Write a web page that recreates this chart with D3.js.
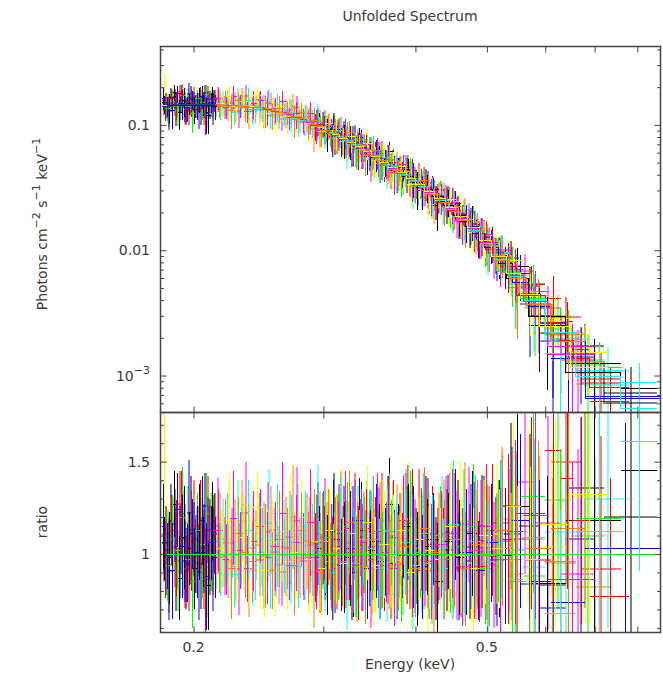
<!DOCTYPE html>
<html>
<head>
<meta charset="utf-8">
<script src="https://cdn.jsdelivr.net/npm/d3@7"></script>
<style>
body { margin: 0; background: #fff; }
svg text { font-family: "DejaVu Sans", sans-serif; font-size: 14px; fill: #3a3a3a; }
</style>
</head>
<body>
<script>
var w = 663, h = 674;

// model curve (keV, photons cm^-2 s^-1 keV^-1)
var modelEnergy = [0.18, 0.20, 0.22, 0.245, 0.27, 0.30, 0.33, 0.36, 0.39, 0.43, 0.48, 0.53, 0.58, 0.63, 0.67, 0.70, 0.74, 0.80, 0.86];
var modelFlux = [0.142, 0.144, 0.143, 0.138, 0.121, 0.095, 0.071, 0.052, 0.039, 0.0265, 0.0150, 0.0078, 0.0040, 0.0022, 0.0014, 0.00105, 0.00078, 0.00056, 0.00042];

// per data group: bin edges (eV), data/model ratio (%), 1-sigma error (%); null = no data in that bin
var blackEdges = [181,184,187,190,193,196,199,202,205,208,211,214,292,300,308,316,325,334,343,353,363,374,385,397,409,422,436,451,468,487,508,532,570,640,760,850];
var blackRatio = [106,98,127,87,109,103,92,112,101,83,118,null,103,94,108,98,90,113,102,96,127,99,115,92,104,85,107,98,111,92,103,126,84,118,145];
var blackErr = [20,25,18,23,28,20,22,26,19,24,21,null,23,27,20,30,24,26,22,31,25,28,23,31,26,32,26,31,34,30,37,50,58,70,42];

var redEdges = [182,185,188,191,194,197,200,203,206,209,212,215,289,297,305,313,321,330,339,348,358,368,379,390,402,415,429,444,460,478,498,521,548,600,630,655,690,780];
var redRatio = [97,113,103,122,92,107,99,116,86,106,111,null,98,106,92,111,101,95,114,104,94,109,99,117,91,105,97,108,101,93,113,108,122,156,141,118,77];
var redErr = [21,19,26,23,18,27,20,24,28,20,22,null,24,20,28,23,26,31,21,27,25,31,23,29,26,32,28,25,33,30,36,46,52,80,60,56,64];

var greenEdges = [183,186,189,192,195,198,201,204,207,210,213,216,295,303,311,319,328,337,346,356,366,377,388,400,412,425,439,454,470,488,507,529,555,600,660,760];
var greenRatio = [94,108,102,120,97,85,113,105,122,99,107,null,108,96,104,115,93,101,111,97,106,91,113,101,95,110,99,104,115,92,107,97,131,96,119];
var greenErr = [19,24,21,27,18,25,20,29,22,19,26,null,25,21,29,24,27,20,31,26,23,28,32,25,29,27,31,24,34,30,33,44,52,60,70];

var blueEdges = [181,183,186,189,192,195,198,201,204,207,210,213,215,298,306,314,322,331,340,349,359,369,380,391,403,416,430,445,461,478,497,518,541,570,610,680,860];
var blueRatio = [115,99,91,124,104,95,111,101,118,88,106,98,null,99,112,94,103,118,92,107,101,95,113,104,93,108,97,116,101,91,106,99,118,85,74,103];
var blueErr = [23,18,26,20,28,21,19,25,24,29,20,22,null,21,28,25,31,23,27,31,24,29,26,33,28,25,31,30,34,27,32,37,47,55,62,68];

var grayEdges = [182,185,188,191,194,197,200,203,206,209,212,215,290,298,306,315,324,333,342,352,362,372,383,395,407,420,434,449,465,483,503,526,553,590,640,720,850];
var grayRatio = [102,118,96,108,92,113,100,95,126,104,111,null,106,97,113,101,92,109,103,98,118,94,105,99,111,92,102,115,96,107,99,126,115,83,136,120];
var grayErr = [24,20,27,19,22,29,21,25,18,26,21,null,26,22,31,25,28,21,31,27,24,29,32,26,31,28,33,25,31,36,32,45,50,58,65,72];

var salmonEdges = [181,184,187,190,193,196,199,202,205,208,211,214,293,301,309,318,327,336,345,355,365,376,387,399,411,424,438,453,470,489,510,535,565,610,670,760];
var salmonRatio = [111,94,104,127,99,90,115,107,97,120,102,null,95,110,101,92,115,105,97,113,93,108,102,119,96,104,109,92,112,101,117,108,97,150,92];
var salmonErr = [20,26,22,18,28,21,25,19,27,22,24,null,27,24,31,21,29,26,22,31,28,25,32,27,31,29,35,26,32,37,34,48,56,66,72];

var lgreenEdges = [183,186,189,192,195,198,201,204,207,210,213,216,296,304,312,321,330,339,348,358,368,379,390,402,415,428,442,457,474,492,512,535,562,600,650,720];
var lgreenRatio = [99,111,91,106,117,95,104,113,93,109,101,null,103,98,112,92,106,115,97,102,108,94,113,100,91,107,99,118,104,95,111,102,88,129,110];
var lgreenErr = [25,19,22,28,20,26,21,18,27,24,20,null,22,29,26,20,31,25,28,24,31,27,26,32,29,25,34,28,31,35,32,45,52,58,68];

var lblueEdges = [181,184,187,190,193,196,199,202,205,208,211,214,291,299,307,316,325,334,343,353,363,374,385,397,409,422,436,451,467,485,505,528,555,590,640,700];
var lblueRatio = [106,91,116,101,96,122,108,90,103,113,97,null,111,100,94,106,113,98,104,92,110,101,117,95,106,99,112,93,104,115,97,111,84,71,108];
var lblueErr = [21,27,19,25,22,29,20,26,24,18,28,null,28,21,26,31,24,29,22,27,32,25,31,28,35,26,31,29,34,27,36,47,52,56,66];

var cyanEdges = [215,220,225,230,235,240,245,251,257,263,269,275,281,287,293,299,306,313,320,328,336,344,353,362,372,382,393,404,416,429,443,458,474,492,512,535,560,600,660,760,850];
var cyanRatio = [97,108,89,104,113,94,101,91,110,99,106,93,115,102,97,107,90,112,100,95,108,103,92,113,98,106,94,111,101,92,116,99,107,96,113,86,109,68,112,161];
var cyanErr = [20,25,18,22,27,19,24,21,28,20,26,22,19,25,21,28,26,31,22,29,25,31,27,24,32,28,26,33,31,27,35,31,36,32,37,48,52,56,64,70];

var magentaEdges = [214,219,224,229,234,239,244,249,255,261,267,273,279,285,291,297,304,311,318,326,334,342,351,360,370,380,391,402,414,427,441,456,472,490,510,533,560,605,700];
var magentaRatio = [113,97,119,102,92,107,115,98,104,122,94,106,100,117,91,109,99,104,114,94,106,97,112,101,92,118,99,108,96,105,111,93,102,115,97,112,121,86];
var magentaErr = [22,19,26,21,18,27,20,25,24,28,19,26,22,29,21,25,28,24,31,26,29,25,32,27,31,24,33,28,31,29,35,32,37,34,39,50,56,64];

var yellowEdges = [181,184,216,221,226,231,236,241,247,253,259,265,271,277,283,289,295,302,309,316,324,332,340,349,358,368,378,389,400,412,425,439,454,470,488,508,531,556,590,650,730];
var yellowRatio = [150,null,103,118,94,109,99,125,91,106,112,96,101,120,97,107,92,113,103,95,111,100,117,94,105,99,113,90,108,102,97,115,99,92,110,103,126,97,116,132];
var yellowErr = [30,null,21,26,19,24,28,20,25,22,18,27,24,20,29,22,26,21,30,25,28,24,31,26,29,33,25,30,27,32,28,34,31,33,37,32,46,50,56,70];

var orangeEdges = [215,219,223,228,233,238,243,248,253,259,265,271,277,283,289,295,301,308,315,322,330,338,346,355,364,374,384,395,406,418,431,445,460,476,494,514,537,565,610,680];
var orangeRatio = [98,106,92,111,101,96,115,99,91,108,103,94,113,98,106,90,109,101,96,117,102,93,108,99,112,95,104,92,114,101,97,108,92,105,99,113,85,103,114];
var orangeErr = [19,24,27,20,25,22,18,28,21,26,22,27,20,25,29,21,26,30,24,28,26,31,25,29,32,26,31,26,33,28,32,36,31,35,38,41,52,58,64];

var lcyanEdges = [217,222,227,232,238,244,250,256,262,268,274,280,286,292,298,305,312,319,327,335,343,352,361,371,381,392,403,415,428,442,457,473,491,511,534,560,600,680,780];
var lcyanRatio = [106,95,113,101,91,108,117,97,104,93,111,99,106,119,94,102,108,90,113,98,104,110,95,101,115,92,106,98,111,103,94,107,90,113,102,93,112,130];
var lcyanErr = [24,20,27,22,19,26,29,21,25,20,27,24,21,29,25,22,28,31,26,24,31,27,32,25,29,33,28,26,31,35,31,36,34,38,48,54,60,70];

var pinkEdges = [214,218,223,228,233,238,243,249,255,261,267,273,279,285,291,298,305,312,319,327,335,344,353,362,372,383,394,406,419,433,448,464,482,501,523,548,580,630,700];
var pinkRatio = [115,99,106,92,122,103,97,112,101,90,109,118,96,105,99,113,93,107,102,115,97,92,110,104,94,113,101,106,91,111,99,116,103,94,107,139,117,89];
var pinkErr = [26,21,19,25,28,22,20,27,24,18,25,29,21,26,22,28,24,31,27,25,28,32,26,31,24,31,29,34,27,31,35,31,37,34,39,50,58,68];

var lyellowEdges = [216,221,226,231,237,243,249,255,261,267,273,279,286,293,300,307,314,322,330,338,347,356,366,376,387,398,410,423,437,452,468,486,505,527,552,585,640,720];
var lyellowRatio = [101,112,94,106,118,98,103,92,109,114,97,106,101,91,111,99,116,95,104,108,93,113,100,97,119,103,92,108,99,115,95,105,111,97,120,104,131];
var lyellowErr = [20,27,22,25,19,28,21,26,24,29,21,25,30,22,27,24,31,26,28,22,32,27,29,25,31,28,34,26,31,36,32,35,38,36,48,56,68];

var peachEdges = [215,220,225,230,235,240,246,252,258,264,270,276,282,288,294,300,307,314,321,329,337,345,354,363,373,383,394,405,417,430,444,459,475,493,513,536,562,600,660,740];
var peachRatio = [108,96,102,118,92,105,99,113,94,104,120,98,107,90,110,101,95,114,103,92,108,99,111,94,105,117,97,101,92,109,104,113,96,101,119,89,108,95,82];
var peachErr = [25,20,28,22,26,19,29,24,21,27,28,22,26,30,24,27,21,31,25,29,26,32,28,24,33,29,27,31,35,31,34,37,31,36,39,50,55,62,70];

// axis ticks / labels
var xTickVals = [0.2, 0.3, 0.4, 0.5, 0.6, 0.7, 0.8];
var xLabelVals = [0.2, 0.5];
var yTopMajor = [0.001, 0.01, 0.1];
var ratioMajor = [1, 1.5];

// drawing order: faded copies first, full colours on top
var sets = [
  {edges: grayEdges, ratio: grayRatio, err: grayErr, color: "#000000", semi: true},
  {edges: salmonEdges, ratio: salmonRatio, err: salmonErr, color: "#ff0000", semi: true},
  {edges: lgreenEdges, ratio: lgreenRatio, err: lgreenErr, color: "#00ff00", semi: true},
  {edges: lblueEdges, ratio: lblueRatio, err: lblueErr, color: "#0000ff", semi: true},
  {edges: lcyanEdges, ratio: lcyanRatio, err: lcyanErr, color: "#00ffff", semi: true},
  {edges: pinkEdges, ratio: pinkRatio, err: pinkErr, color: "#ff00ff", semi: true},
  {edges: lyellowEdges, ratio: lyellowRatio, err: lyellowErr, color: "#ffff00", semi: true},
  {edges: peachEdges, ratio: peachRatio, err: peachErr, color: "#ff8000", semi: true},
  {edges: blackEdges, ratio: blackRatio, err: blackErr, color: "#000000", semi: false},
  {edges: redEdges, ratio: redRatio, err: redErr, color: "#ff0000", semi: false},
  {edges: greenEdges, ratio: greenRatio, err: greenErr, color: "#00ff00", semi: false},
  {edges: blueEdges, ratio: blueRatio, err: blueErr, color: "#0000ff", semi: false},
  {edges: cyanEdges, ratio: cyanRatio, err: cyanErr, color: "#00ffff", semi: false},
  {edges: magentaEdges, ratio: magentaRatio, err: magentaErr, color: "#ff00ff", semi: false},
  {edges: yellowEdges, ratio: yellowRatio, err: yellowErr, color: "#ffff00", semi: false},
  {edges: orangeEdges, ratio: orangeRatio, err: orangeErr, color: "#ff8000", semi: false}
];

var L = 160.5, R = 660.5, T = 46.5, M = 412.5, B = 632.5;
var frameColor = "#444";

var svg = d3.select("body").append("svg").attr("width", w).attr("height", h);

var x = d3.scaleLog().domain([0.1804, 0.860]).range([L, R]);
var yTop = d3.scaleLog().domain([5.07e-4, 0.4221]).range([M, T]);
var yRat = d3.scaleLinear().domain([0.5748, 1.7665]).range([B, M]);
var logModel = d3.scaleLinear().domain(modelEnergy).range(modelFlux.map(Math.log10));
function model(e) { return Math.pow(10, logModel(e)); }

var defs = svg.append("defs");
defs.append("clipPath").attr("id", "clipTop").append("rect")
    .attr("x", L).attr("y", T).attr("width", R - L).attr("height", M - T);
defs.append("clipPath").attr("id", "clipRat").append("rect")
    .attr("x", L).attr("y", M).attr("width", R - L).attr("height", B - M);

var topG = svg.append("g").attr("clip-path", "url(#clipTop)").attr("shape-rendering", "crispEdges");
var ratG = svg.append("g").attr("clip-path", "url(#clipRat)").attr("shape-rendering", "crispEdges");

function styleSet(g, s) {
  return g.attr("stroke", s.color)
          .attr("stroke-opacity", s.semi ? 0.5 : 1)
          .attr("stroke-width", s.semi ? 2 : 1)
          .attr("fill", "none");
}

// data crosses
sets.forEach(function(s) {
  var gt = styleSet(topG.append("g"), s);
  var gr = styleSet(ratG.append("g"), s);
  for (var i = 0; i < s.ratio.length; i++) {
    if (s.ratio[i] == null) continue;
    var lo = s.edges[i] / 1000, hi = s.edges[i + 1] / 1000, ec = (lo + hi) / 2;
    var r = s.ratio[i] / 100, e = s.err[i] / 100, m = model(ec);
    var xc = x(ec);
    // top panel (unfolded flux)
    gt.append("line").attr("x1", xc).attr("x2", xc)
      .attr("y1", yTop(Math.max(r - e, 0.01) * m)).attr("y2", yTop((r + e) * m));
    gt.append("line").attr("x1", x(lo)).attr("x2", x(hi))
      .attr("y1", yTop(r * m)).attr("y2", yTop(r * m));
    // ratio panel
    gr.append("line").attr("x1", xc).attr("x2", xc)
      .attr("y1", yRat(r - e)).attr("y2", yRat(r + e));
    gr.append("line").attr("x1", x(lo)).attr("x2", x(hi))
      .attr("y1", yRat(r)).attr("y2", yRat(r));
  }
});

// model histograms
sets.forEach(function(s) {
  var d = "", open = false;
  for (var i = 0; i < s.ratio.length; i++) {
    if (s.ratio[i] == null) { open = false; continue; }
    var lo = s.edges[i] / 1000, hi = s.edges[i + 1] / 1000;
    var ym = yTop(model((lo + hi) / 2));
    d += (open ? "V" + ym : "M" + x(lo) + "," + ym) + "H" + x(hi);
    open = true;
  }
  styleSet(topG.append("path"), s).attr("d", d);
});

// unity line in the ratio panel
ratG.append("line").attr("x1", L).attr("x2", R).attr("y1", yRat(1)).attr("y2", yRat(1))
    .attr("stroke", "#00ff00").attr("stroke-width", 1);

// ticks
function ticks(axis, tr, vals, size) {
  var g = svg.append("g").attr("transform", tr)
             .call(axis.tickValues(vals).tickSize(size).tickSizeOuter(0).tickFormat(""));
  g.select(".domain").remove();
  g.selectAll("line").attr("stroke", frameColor);
}
ticks(d3.axisTop(x), "translate(0," + T + ")", xTickVals, -6);
ticks(d3.axisBottom(x), "translate(0," + M + ")", xTickVals, -6);
ticks(d3.axisTop(x), "translate(0," + M + ")", xTickVals, -6);
ticks(d3.axisBottom(x), "translate(0," + B + ")", xTickVals, -6);

var yTopMinor = yTop.ticks().filter(function(v) {
  return yTopMajor.every(function(m) { return Math.abs(v / m - 1) > 1e-6; });
});
ticks(d3.axisLeft(yTop), "translate(" + L + ",0)", yTopMajor, -6);
ticks(d3.axisLeft(yTop), "translate(" + L + ",0)", yTopMinor, -3.5);
ticks(d3.axisRight(yTop), "translate(" + R + ",0)", yTopMajor, -6);
ticks(d3.axisRight(yTop), "translate(" + R + ",0)", yTopMinor, -3.5);

var ratioMinor = yRat.ticks(12).filter(function(v) {
  return ratioMajor.every(function(m) { return Math.abs(v - m) > 1e-6; });
});
ticks(d3.axisLeft(yRat), "translate(" + L + ",0)", ratioMajor, -6);
ticks(d3.axisLeft(yRat), "translate(" + L + ",0)", ratioMinor, -3.5);
ticks(d3.axisRight(yRat), "translate(" + R + ",0)", ratioMajor, -6);
ticks(d3.axisRight(yRat), "translate(" + R + ",0)", ratioMinor, -3.5);

// frames
svg.append("rect").attr("x", L).attr("y", T).attr("width", R - L).attr("height", M - T)
   .attr("fill", "none").attr("stroke", frameColor).attr("stroke-width", 1.5);
svg.append("rect").attr("x", L).attr("y", M).attr("width", R - L).attr("height", B - M)
   .attr("fill", "none").attr("stroke", frameColor).attr("stroke-width", 1.5);

// labels
svg.append("text").attr("x", 410).attr("y", 21).attr("text-anchor", "middle").text("Unfolded Spectrum");
svg.append("text").attr("x", 410).attr("y", 669).attr("text-anchor", "middle").text("Energy (keV)");

xLabelVals.forEach(function(v) {
  svg.append("text").attr("x", x(v)).attr("y", 652).attr("text-anchor", "middle").text(v);
});

yTopMajor.forEach(function(v) {
  var t = svg.append("text").attr("x", 150).attr("y", yTop(v) + 5).attr("text-anchor", "end");
  if (v < 0.005) {
    t.append("tspan").text("10");
    t.append("tspan").attr("dy", -7).style("font-size", "11px").text("\u22123");
  } else {
    t.text(v);
  }
});
ratioMajor.forEach(function(v) {
  svg.append("text").attr("x", 150).attr("y", yRat(v) + 5).attr("text-anchor", "end").text(v);
});

var yt = svg.append("text").attr("transform", "translate(47,224) rotate(-90)").attr("text-anchor", "middle");
yt.append("tspan").text("Photons cm");
yt.append("tspan").attr("dy", -7).style("font-size", "11px").text("\u22122");
yt.append("tspan").attr("dy", 7).text("  s");
yt.append("tspan").attr("dy", -7).style("font-size", "11px").text("\u22121");
yt.append("tspan").attr("dy", 7).text("  keV");
yt.append("tspan").attr("dy", -7).style("font-size", "11px").text("\u22121");

svg.append("text").attr("transform", "translate(47,522) rotate(-90)").attr("text-anchor", "middle").text("ratio");
</script>
</body>
</html>
